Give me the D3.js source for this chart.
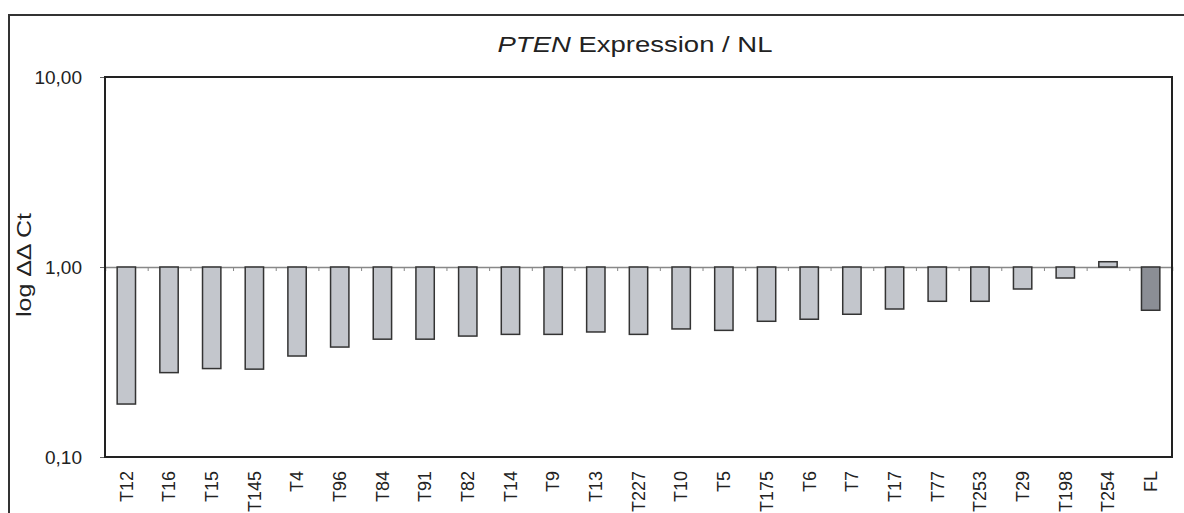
<!DOCTYPE html>
<html>
<head>
<meta charset="utf-8">
<script src="https://cdn.jsdelivr.net/npm/d3@7"></script>
<style>
  body { margin: 0; background: #fff; }
  svg { display: block; font-family: "Liberation Sans", Arial, sans-serif; }
</style>
</head>
<body>
<script>
(function() {

    // data
    var samples = ["T12", "T16", "T15", "T145", "T4", "T96", "T84", "T91", "T82", "T14",
        "T9", "T13", "T227", "T10", "T5", "T175", "T6", "T7", "T17", "T77",
        "T253", "T29", "T198", "T254", "FL"];
    var ratios = [0.19, 0.278, 0.292, 0.29, 0.34, 0.379, 0.417, 0.417, 0.433, 0.442,
        0.442, 0.455, 0.442, 0.472, 0.464, 0.518, 0.531, 0.564, 0.601, 0.66,
        0.66, 0.766, 0.875, 1.066, 0.592];
    var yTicks = [0.1, 1, 10];

    // frame
    var width = 1184,
        height = 513,
        plotLeft = 105,
        plotRight = 1172,
        plotTop = 77,
        plotBottom = 457;

    var svg = d3.select("body")
        .append("svg")
        .attr("width", width)
        .attr("height", height);

    // outer box (runs off the right and bottom)
    svg.append("rect")
        .attr("x", 9)
        .attr("y", 15)
        .attr("width", 1300)
        .attr("height", 700)
        .attr("fill", "none")
        .attr("stroke", "#333")
        .attr("stroke-width", 2);

    var x = d3.scaleBand()
        .domain(samples)
        .range([plotLeft, plotRight]);

    var xIdx = d3.scaleLinear()
        .domain([0, samples.length])
        .range([plotLeft, plotRight]);

    var y = d3.scaleLog()
        .domain([0.1, 10])
        .range([plotBottom, plotTop]);

    var locale = d3.formatLocale({ decimal: ",", thousands: ".", grouping: [3], currency: ["", ""] });
    var fmt = locale.format(".2f");

    // title (source font is wider than Arial, so stretch it)
    var title = svg.append("text")
        .attr("x", 635)
        .attr("y", 52)
        .attr("text-anchor", "middle")
        .attr("textLength", 275)
        .attr("lengthAdjust", "spacingAndGlyphs")
        .style("font-size", "22px")
        .attr("fill", "#222");
    title.append("tspan").style("font-style", "italic").text("PTEN");
    title.append("tspan").text(" Expression / NL");

    // y axis label
    svg.append("text")
        .attr("transform", "translate(31,265) rotate(-90)")
        .attr("text-anchor", "middle")
        .attr("textLength", 104)
        .attr("lengthAdjust", "spacingAndGlyphs")
        .style("font-size", "21px")
        .attr("fill", "#222")
        .text("log \u0394\u0394 Ct");

    // y axis
    var yAxis = svg.append("g")
        .attr("transform", "translate(" + plotLeft + ",0)")
        .call(d3.axisLeft(y).tickValues(yTicks).tickSize(5).tickFormat(fmt));
    yAxis.select(".domain").remove();
    yAxis.selectAll(".tick line").attr("stroke", "#666");
    yAxis.selectAll(".tick text")
        .attr("x", -23)
        .style("font-size", "19px")
        .attr("fill", "#222");

    // baseline at 1 with boundary ticks
    var base = svg.append("g")
        .attr("transform", "translate(0," + y(1) + ")")
        .call(d3.axisBottom(xIdx).tickValues(d3.range(1, samples.length)).tickSize(4).tickFormat(""));
    base.select(".domain")
        .attr("stroke", "#888")
        .attr("stroke-width", 1.5);
    base.selectAll(".tick line").attr("stroke", "#888");

    // bars
    var barW = x.bandwidth() * 0.43;
    svg.selectAll(".bars")
        .data(samples)
        .enter()
        .append("rect")
        .attr("class", "bars")
        .attr("x", function(d) { return x(d) + (x.bandwidth() - barW) / 2; })
        .attr("y", function(d, i) { return y(Math.max(ratios[i], 1)); })
        .attr("width", barW)
        .attr("height", function(d, i) { return Math.abs(y(ratios[i]) - y(1)); })
        .attr("fill", function(d) { return d == "FL" ? "#8b8e95" : "#c3c6cc"; })
        .attr("stroke", "#333")
        .attr("stroke-width", 1.5);

    // plot frame
    svg.append("rect")
        .attr("x", plotLeft)
        .attr("y", plotTop)
        .attr("width", plotRight - plotLeft)
        .attr("height", plotBottom - plotTop)
        .attr("fill", "none")
        .attr("stroke", "#222")
        .attr("stroke-width", 2);

    // sample labels
    var xAxis = svg.append("g")
        .attr("transform", "translate(0," + plotBottom + ")")
        .call(d3.axisBottom(x).tickSize(0));
    xAxis.select(".domain").remove();
    xAxis.selectAll(".tick text")
        .attr("transform", "rotate(-90)")
        .attr("text-anchor", "end")
        .attr("x", -14)
        .attr("y", 0)
        .attr("dy", "0.35em")
        .style("font-size", "18px")
        .attr("fill", "#222");
})();
</script>
</body>
</html>
